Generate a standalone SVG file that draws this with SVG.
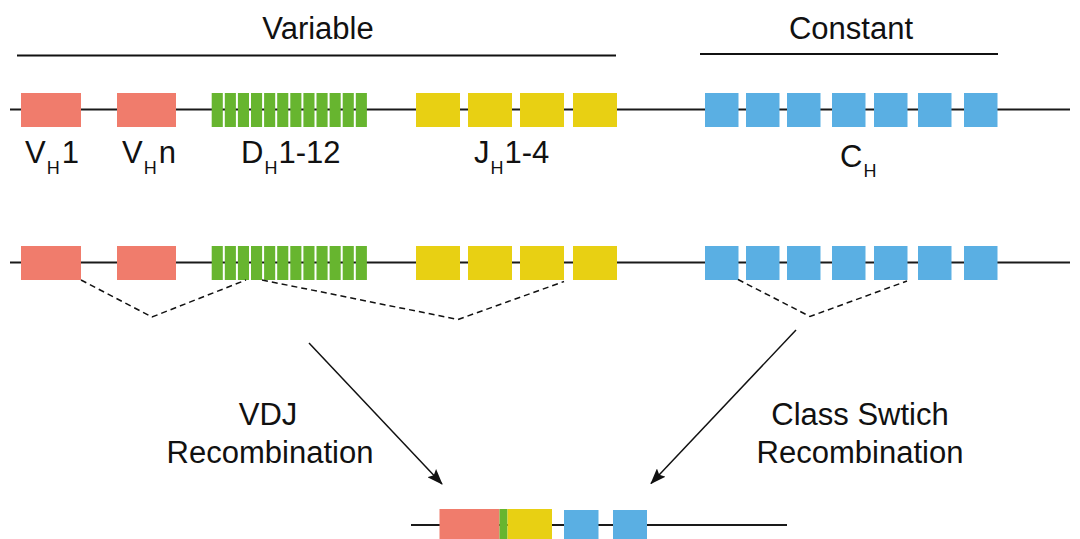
<svg xmlns="http://www.w3.org/2000/svg" width="1080" height="539" viewBox="0 0 1080 539">
  <style>
    .bb { stroke: #1a1a1a; stroke-width: 2; fill: none; }
    .bar { stroke: #111; stroke-width: 1.8; }
    .v { fill: #F07C6C; }
    .d { fill: #67B52F; }
    .j { fill: #E8D013; }
    .c { fill: #5AAFE3; }
    .dash { stroke: #111; stroke-width: 1.5; stroke-dasharray: 6 4; fill: none; }
    .arrow { stroke: #111; stroke-width: 1.5; fill: none; marker-end: url(#head); }
    text { font-family: "Liberation Sans", Arial, sans-serif; fill: #111; }
    .lbl { font-size: 31px; }
    .sub { font-size: 18px; }
  </style>
  <defs>
    <marker id="head" viewBox="0 0 16 12" refX="15" refY="6" markerWidth="16" markerHeight="12" markerUnits="userSpaceOnUse" orient="auto">
      <path d="M0,0 L16,6 L0,12 L3,6 Z" fill="#111"/>
    </marker>
    <g id="dset">
      <rect class="d" x="0" y="0" width="11.1" height="34"/>
      <rect class="d" x="13.1" y="0" width="11.1" height="34"/>
      <rect class="d" x="26.2" y="0" width="11.1" height="34"/>
      <rect class="d" x="39.3" y="0" width="11.1" height="34"/>
      <rect class="d" x="52.4" y="0" width="11.1" height="34"/>
      <rect class="d" x="65.5" y="0" width="11.1" height="34"/>
      <rect class="d" x="78.6" y="0" width="11.1" height="34"/>
      <rect class="d" x="91.7" y="0" width="11.1" height="34"/>
      <rect class="d" x="104.8" y="0" width="11.1" height="34"/>
      <rect class="d" x="117.9" y="0" width="11.1" height="34"/>
      <rect class="d" x="131" y="0" width="11.1" height="34"/>
      <rect class="d" x="144.1" y="0" width="11.1" height="34"/>
    </g>
    <g id="locus">
      <line class="bb" x1="10" y1="16.5" x2="1070" y2="16.5"/>
      <rect class="v" x="21" y="0" width="60" height="34"/>
      <rect class="v" x="117" y="0" width="59" height="34"/>
      <use href="#dset" x="211.7" y="0"/>
      <rect class="j" x="416" y="0" width="44" height="34"/>
      <rect class="j" x="468" y="0" width="44" height="34"/>
      <rect class="j" x="520" y="0" width="44" height="34"/>
      <rect class="j" x="573" y="0" width="44" height="34"/>
      <rect class="c" x="705" y="0" width="33.5" height="34"/>
      <rect class="c" x="746" y="0" width="33.5" height="34"/>
      <rect class="c" x="787" y="0" width="33.5" height="34"/>
      <rect class="c" x="832" y="0" width="33.5" height="34"/>
      <rect class="c" x="874" y="0" width="33.5" height="34"/>
      <rect class="c" x="918" y="0" width="33.5" height="34"/>
      <rect class="c" x="964" y="0" width="33.5" height="34"/>
    </g>
  </defs>

  <!-- region headings -->
  <g id="variable-heading">
    <text class="lbl" x="318" y="39" text-anchor="middle">Variable</text>
    <line class="bar" x1="17" y1="55.5" x2="616" y2="55.5"/>
  </g>
  <g id="constant-heading">
    <text class="lbl" x="851" y="39" text-anchor="middle">Constant</text>
    <line class="bar" x1="700" y1="54" x2="998" y2="54"/>
  </g>

  <!-- germline locus -->
  <g id="germline">
    <use href="#locus" x="0" y="93"/>
  </g>
  <g id="gene-labels">
    <text class="lbl" x="25" y="163">V<tspan class="sub" dx="1" dy="11">H</tspan><tspan dx="2" dy="-11">1</tspan></text>
    <text class="lbl" x="122" y="163">V<tspan class="sub" dx="1" dy="11">H</tspan><tspan dx="2" dy="-11">n</tspan></text>
    <text class="lbl" x="241" y="163">D<tspan class="sub" dx="1" dy="11">H</tspan><tspan dx="1" dy="-11">1-12</tspan></text>
    <text class="lbl" x="474" y="163">J<tspan class="sub" dx="1" dy="11">H</tspan><tspan dx="1" dy="-11">1-4</tspan></text>
    <text class="lbl" x="840" y="167">C<tspan class="sub" dx="1" dy="10">H</tspan></text>
  </g>

  <!-- locus undergoing recombination -->
  <g id="rearranging">
    <use href="#locus" x="0" y="246"/>
  </g>

  <!-- recombined locus -->
  <g id="recombined">
    <line class="bb" x1="411" y1="525" x2="787" y2="525"/>
    <rect class="v" x="439.5" y="509" width="60" height="34"/>
    <rect class="d" x="499.5" y="509" width="8" height="34"/>
    <rect class="j" x="507.5" y="509" width="44.5" height="34"/>
    <rect class="c" x="564" y="510" width="34.5" height="34"/>
    <rect class="c" x="613" y="510" width="34" height="34"/>
  </g>

  <g id="process-labels">
    <text class="lbl" x="268" y="425" text-anchor="middle">VDJ</text>
    <text class="lbl" x="270" y="463" text-anchor="middle">Recombination</text>
    <text class="lbl" x="860" y="425" text-anchor="middle">Class Swtich</text>
    <text class="lbl" x="860" y="463" text-anchor="middle">Recombination</text>
  </g>

  <!-- connectors -->
  <g id="connectors">
    <polyline class="dash" points="81,280 152,317 246,280"/>
    <polyline class="dash" points="262,280 458,319.5 564,281.5"/>
    <polyline class="dash" points="738,279.5 810,316.5 907,281"/>
    <line class="arrow" x1="309" y1="343" x2="442" y2="484"/>
    <line class="arrow" x1="796" y1="330" x2="651" y2="483.5"/>
  </g>
</svg>
